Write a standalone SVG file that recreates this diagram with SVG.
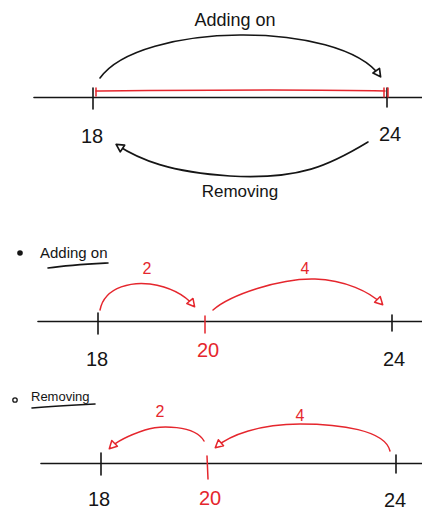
<svg xmlns="http://www.w3.org/2000/svg" width="422" height="510" viewBox="0 0 422 510">
<style>
.k{stroke:#151515;stroke-width:1.6;fill:none;stroke-linecap:round}
.r{stroke:#e5262d;stroke-width:1.5;fill:none;stroke-linecap:round}
.t{font-family:"Liberation Sans",Arial,sans-serif;fill:#151515}
.tr{font-family:"Liberation Sans",Arial,sans-serif;fill:#e5262d}
</style>
<defs>
<marker id="ak" markerWidth="12" markerHeight="12" refX="8" refY="5" orient="auto" markerUnits="userSpaceOnUse">
<path d="M1.5,1 L9,5 L1.5,9 Z" fill="#fff" stroke="#151515" stroke-width="1.7" stroke-linejoin="round"/>
</marker>
<marker id="ar" markerWidth="12" markerHeight="12" refX="8" refY="5" orient="auto" markerUnits="userSpaceOnUse">
<path d="M1.5,1 L9,5 L1.5,9 Z" fill="#fff" stroke="#e5262d" stroke-width="1.5" stroke-linejoin="round"/>
</marker>
</defs>
<g id="top">
<g id="top-line">
<path class="k" d="M34,97.5 L422,97.5"/>
<path class="k" d="M93,88 L93,109"/>
<path class="k" d="M387,88 L387,107"/>
<path class="r" d="M96,91 C200,90 300,89 385,91"/>
<path class="r" d="M96,88 L96,96 M384,88 L384,97 M388,88 L388,97"/>
</g>
<text id="top-18" class="t" x="92" y="143" font-size="20" text-anchor="middle">18</text>
<text id="top-24" class="t" x="390" y="141" font-size="20" text-anchor="middle">24</text>
<text id="top-add" class="t" x="235" y="26" font-size="18" text-anchor="middle">Adding on</text>
<text id="top-rem" class="t" x="240" y="197" font-size="17" text-anchor="middle">Removing</text>
</g>
<g id="mid">
<circle cx="20" cy="253" r="2.8" fill="#151515"/>
<text class="t" x="40" y="258" font-size="15">Adding on</text>
<path class="k" d="M48,268 C70,265 90,264 108,263"/>
<path class="k" d="M38,321.5 L422,321.5"/>
<path class="k" d="M98,313 L98,334"/>
<path class="r" d="M205,316 L205,333"/>
<path class="k" d="M392,315 L392,331"/>
<text class="t" x="97" y="366" font-size="20" text-anchor="middle">18</text>
<text class="tr" x="208" y="357" font-size="20" text-anchor="middle">20</text>
<text class="t" x="394" y="366" font-size="20" text-anchor="middle">24</text>
<text class="tr" x="147" y="274" font-size="16" text-anchor="middle">2</text>
<text class="tr" x="305" y="274" font-size="16" text-anchor="middle">4</text>
</g>
<g id="bot">
<circle cx="15" cy="400" r="2.2" fill="none" stroke="#151515" stroke-width="1.3"/>
<text class="t" x="31" y="401" font-size="13">Removing</text>
<path class="k" d="M32,408 C55,406 75,405 95,404"/>
<path class="k" d="M41,463.5 L422,463.5"/>
<path class="k" d="M101,453 L101,475"/>
<path class="r" d="M207,456 L208,479"/>
<path class="k" d="M396,455 L396,473"/>
<text class="t" x="99" y="506" font-size="20" text-anchor="middle">18</text>
<text class="tr" x="210" y="505" font-size="20" text-anchor="middle">20</text>
<text class="t" x="395" y="507" font-size="20" text-anchor="middle">24</text>
<text class="tr" x="160" y="417" font-size="16" text-anchor="middle">2</text>
<text class="tr" x="300" y="421" font-size="16" text-anchor="middle">4</text>
</g>
<g id="connectors">
<path class="k" marker-end="url(#ak)" d="M100,78 C140,22 340,20 380,76"/>
<path class="k" marker-end="url(#ak)" d="M368,142 C330,165 300,180 230,176 C170,172 140,160 117,145"/>
<path class="r" marker-end="url(#ar)" d="M100,310 C105,285 135,282 150,284 C170,287 185,295 194,306"/>
<path class="r" marker-end="url(#ar)" d="M213,310 C230,295 280,278 315,279 C345,280 370,292 382,304"/>
<path class="r" marker-end="url(#ar)" d="M204,441 C195,425 160,425 145,430 C130,435 118,440 110,448"/>
<path class="r" marker-end="url(#ar)" d="M390,451 C385,430 340,424 300,424 C260,424 230,435 216,447"/>
</g>
</svg>
